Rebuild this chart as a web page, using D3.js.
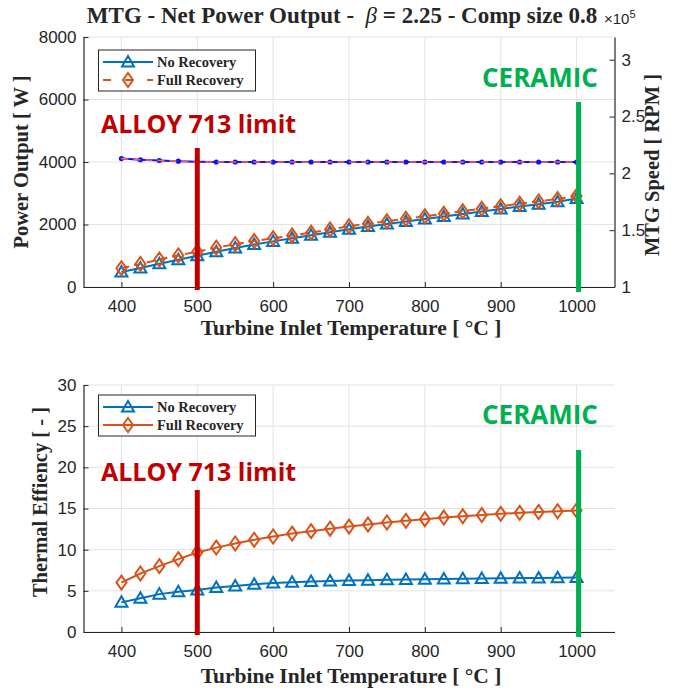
<!DOCTYPE html>
<html>
<head>
<meta charset="utf-8">
<script src="https://cdn.jsdelivr.net/npm/d3@7"></script>
<style>
  body { margin: 0; background: #fff; }
  svg text { fill: #262626; }
</style>
</head>
<body>
<div id="visContainer"></div>
<script>
// turbine inlet temperature [°C]
const tit = [400, 425, 450, 475, 500, 525, 550, 575, 600, 625, 650, 675, 700,
  725, 750, 775, 800, 825, 850, 875, 900, 925, 950, 975, 1000];

// net power output [W]
const powerNoRec = [480, 610, 745, 875, 1000, 1130, 1250, 1360, 1460, 1560, 1655, 1750, 1850,
  1935, 2015, 2095, 2175, 2255, 2335, 2415, 2495, 2575, 2650, 2730, 2830];
const powerFullRec = [600, 740, 880, 1010, 1130, 1260, 1370, 1470, 1560, 1650, 1740, 1840, 1945,
  2025, 2105, 2185, 2265, 2345, 2425, 2505, 2585, 2665, 2740, 2815, 2910];

// MTG speed [RPM]
const speedNoRec = [213000, 212000, 211300, 210700, 210200, 210000, 210000, 210000, 210000, 210000,
  210000, 210000, 210000, 210000, 210000, 210000, 210000, 210000, 210000, 210000, 210000, 210000,
  210000, 210000, 210000];
const speedFullRec = speedNoRec;

// thermal efficiency [%]
const effNoRec = [3.6, 4.1, 4.6, 4.9, 5.1, 5.4, 5.6, 5.8, 5.95, 6.05, 6.12, 6.18, 6.25,
  6.3, 6.34, 6.38, 6.42, 6.45, 6.48, 6.5, 6.52, 6.55, 6.57, 6.6, 6.62];
const effFullRec = [6.0, 7.1, 8.0, 8.85, 9.65, 10.25, 10.75, 11.2, 11.6, 11.95, 12.25, 12.55, 12.8,
  13.05, 13.3, 13.5, 13.7, 13.9, 14.05, 14.2, 14.35, 14.47, 14.58, 14.67, 14.77];

const xTicks = [400, 500, 600, 700, 800, 900, 1000];
const powerTicks = [0, 2000, 4000, 6000, 8000];
const speedTicks = [100000, 150000, 200000, 250000, 300000];
const effTicks = [0, 5, 10, 15, 20, 25, 30];

const alloyLimit = 500;
const ceramicLimit = 1000;

function makeVis() {
  const width = 676;
  const height = 689;
  const blue = "#0072bd";
  const orange = "#d95319";
  const serif = "'Liberation Serif', 'Times New Roman', serif";
  const sans = "'Liberation Sans', Arial, sans-serif";
  const calibri = "'Open Sans', 'Liberation Sans', sans-serif";

  const svg = d3.create("svg")
    .attr("width", width)
    .attr("height", height)
    .style("background", "#fff");
  document.querySelector("#visContainer").append(svg.node());

  const xScale = d3.scaleLinear().domain([350, 1050]).range([83.5, 614.5]);

  const yPower = d3.scaleLinear().domain([0, 8000]).range([287, 37]);
  const ySpeed = d3.scaleLinear().domain([100000, 320000]).range([287, 37]);
  const yEff = d3.scaleLinear().domain([0, 30]).range([632, 385]);

  function grid(yScale, yTicks) {
    const g = svg.append("g").attr("stroke", "#e3e3e3").attr("stroke-width", 1);
    const [y0, y1] = yScale.range();
    xTicks.forEach(t => {
      g.append("line").attr("x1", xScale(t)).attr("x2", xScale(t)).attr("y1", y0).attr("y2", y1);
    });
    yTicks.forEach(t => {
      g.append("line").attr("x1", xScale.range()[0]).attr("x2", xScale.range()[1])
        .attr("y1", yScale(t)).attr("y2", yScale(t));
    });
  }

  function styleAxis(g) {
    g.select(".domain").attr("stroke", "#262626").attr("stroke-width", 1.2);
    g.selectAll(".tick line").attr("stroke", "#262626");
    g.selectAll(".tick text").attr("font-family", sans).attr("font-size", 17).attr("fill", "#262626");
  }

  function axes(yScale, yTicks, bottomY) {
    svg.append("g").attr("transform", `translate(0,${bottomY})`)
      .call(d3.axisBottom(xScale).tickValues(xTicks).tickFormat(d3.format("d"))
        .tickSizeInner(-5).tickSizeOuter(0).tickPadding(13))
      .call(styleAxis);
    svg.append("g").attr("transform", `translate(${xScale.range()[0]},0)`)
      .call(d3.axisLeft(yScale).tickValues(yTicks).tickFormat(d3.format("d"))
        .tickSizeInner(-5).tickSizeOuter(0).tickPadding(7))
      .call(styleAxis);
  }

  function series(yScale, xs, ys, color, marker, dashed) {
    const line = d3.line().x((d, i) => xScale(xs[i])).y(d => yScale(d));
    svg.append("path").datum(ys)
      .attr("d", line)
      .attr("fill", "none")
      .attr("stroke", color)
      .attr("stroke-width", 2)
      .attr("stroke-dasharray", dashed ? "8,5" : null);
    svg.append("g").selectAll("path")
      .data(ys)
      .join("path")
      .attr("transform", (d, i) => `translate(${xScale(xs[i])},${yScale(d)})`)
      .attr("d", marker)
      .attr("fill", "none")
      .attr("stroke", color)
      .attr("stroke-width", 2);
  }

  const triangle = "M0,-6L6,4.5L-6,4.5Z";
  const diamond = "M0,-7L5,0L0,7L-5,0Z";

  function legend(top, dashedFull) {
    const g = svg.append("g");
    g.append("rect").attr("x", 98.5).attr("y", top).attr("width", 157).attr("height", 41)
      .attr("fill", "#fff").attr("stroke", "#262626").attr("stroke-width", 1);
    const rows = [
      { label: "No Recovery", color: blue, marker: triangle, dashed: false },
      { label: "Full Recovery", color: orange, marker: diamond, dashed: dashedFull }
    ];
    rows.forEach((r, i) => {
      const y = top + 12 + i * 18;
      g.append("line").attr("x1", 103).attr("x2", 153).attr("y1", y).attr("y2", y)
        .attr("stroke", r.color).attr("stroke-width", 2)
        .attr("stroke-dasharray", r.dashed ? "8,14" : null);
      g.append("path").attr("transform", `translate(128,${y})`).attr("d", r.marker)
        .attr("fill", "none").attr("stroke", r.color).attr("stroke-width", 2);
      g.append("text").attr("x", 157).attr("y", y + 5)
        .attr("font-family", serif).attr("font-weight", "bold").attr("font-size", 14.5)
        .text(r.label);
    });
  }

  function limits(yBottom, alloyTop, ceramicTop, alloyBase, ceramicBase) {
    svg.append("line").attr("x1", xScale(alloyLimit)).attr("x2", xScale(alloyLimit))
      .attr("y1", alloyTop).attr("y2", yBottom + 3).attr("stroke", "#c00000").attr("stroke-width", 5);
    svg.append("line").attr("x1", xScale(ceramicLimit) + 2).attr("x2", xScale(ceramicLimit) + 2)
      .attr("y1", ceramicTop).attr("y2", yBottom + 5).attr("stroke", "#00b050").attr("stroke-width", 5);
    svg.append("text").attr("x", 101).attr("y", alloyBase)
      .attr("font-family", calibri).attr("font-weight", "bold").attr("font-size", 25)
      .style("fill", "#c00000").text("ALLOY 713 limit");
    svg.append("text").attr("x", 482).attr("y", ceramicBase)
      .attr("font-family", calibri).attr("font-weight", "bold").attr("font-size", 26)
      .style("fill", "#00b050").text("CERAMIC");
  }

  function xLabel(y) {
    svg.append("text").attr("x", 351).attr("y", y).attr("text-anchor", "middle")
      .attr("font-family", serif).attr("font-weight", "bold").attr("font-size", 21.5)
      .text("Turbine Inlet Temperature [ °C ]");
  }

  function yLabel(x, y, label) {
    svg.append("text").attr("transform", `translate(${x},${y}) rotate(-90)`)
      .attr("text-anchor", "middle")
      .attr("font-family", serif).attr("font-weight", "bold").attr("font-size", 20.5)
      .text(label);
  }

  // ---- top: power + speed
  grid(yPower, powerTicks);
  axes(yPower, powerTicks, 287);
  svg.append("g").attr("transform", `translate(${xScale.range()[1]},0)`)
    .call(d3.axisRight(ySpeed).tickValues(speedTicks).tickSizeInner(-5).tickSizeOuter(0).tickPadding(7)
      .tickFormat(d => d3.format("~g")(d / 100000)))
    .call(styleAxis);

  series(ySpeed, tit, speedNoRec, "#1010ff", "M-1.6,0a1.6,1.6 0 1,0 3.2,0a1.6,1.6 0 1,0 -3.2,0", false);
  svg.append("path").datum(speedFullRec)
    .attr("d", d3.line().x((d, i) => xScale(tit[i])).y(d => ySpeed(d)))
    .attr("fill", "none").attr("stroke", "#ff6060").attr("stroke-width", 1.6)
    .attr("stroke-dasharray", "7,5");

  series(yPower, tit, powerNoRec, blue, triangle, false);
  series(yPower, tit, powerFullRec, orange, diamond, true);
  limits(287, 148, 102, 133, 87);
  legend(50, true);

  svg.append("text").attr("x", 342).attr("y", 23).attr("text-anchor", "middle")
    .attr("font-family", serif).attr("font-weight", "bold").attr("font-size", 23)
    .html("MTG - Net Power Output -&#160;&#160;<tspan font-style='italic' font-weight='normal'>β</tspan> = 2.25 - Comp size 0.8");
  svg.append("text").attr("x", 604).attr("y", 24)
    .attr("font-family", sans).attr("font-size", 15)
    .html("×10<tspan dy='-6' font-size='11'>5</tspan>");

  xLabel(335);
  yLabel(28, 162, "Power Output [ W ]");
  yLabel(659, 165, "MTG Speed [ RPM ]");

  // ---- bottom: efficiency
  grid(yEff, effTicks);
  axes(yEff, effTicks, 632);
  series(yEff, tit, effNoRec, blue, triangle, false);
  series(yEff, tit, effFullRec, orange, diamond, false);
  limits(632, 490, 450, 481, 424);
  legend(395, false);

  xLabel(683);
  yLabel(47, 502, "Thermal Effiency [ - ]");
}

makeVis();
</script>
</body>
</html>
